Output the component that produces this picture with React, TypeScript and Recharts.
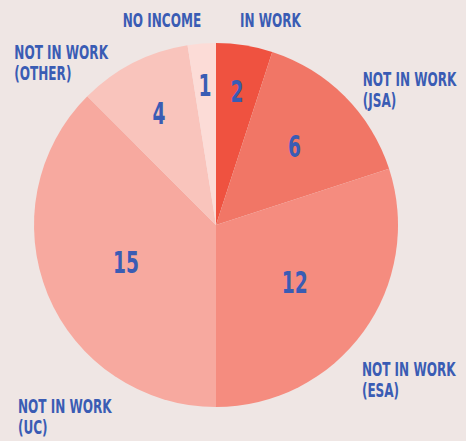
import { PieChart, Pie, Cell } from 'recharts'

const categories = ['IN WORK', 'NOT IN WORK (JSA)', 'NOT IN WORK (ESA)', 'NOT IN WORK (UC)', 'NOT IN WORK (OTHER)', 'NO INCOME']
const values = [2, 6, 12, 15, 4, 1]

const colors = ['#ef5240', '#f17666', '#f58c7f', '#f7a99f', '#f9c4bc', '#fcdcd7']
// outer text: polar position (deg, recharts convention) of the first line's left/baseline point
const outerPos = [
    { angle: 83.1, r: 199 },
    { angle: 43.4, r: 202 },
    { angle: -46, r: 210 },
    { angle: -136.5, r: 273 },
    { angle: 140.6, r: 261 },
    { angle: 115.2, r: 219 },
]

const data = categories.map((name, i) => ({ name, value: values[i] }))

const font = "'DejaVu Sans Condensed', 'DejaVu Sans', sans-serif"
const blue = '#3a5cb4'
const RAD = Math.PI / 180

const renderLabel = (props: any) => {
    const { cx, cy, midAngle, outerRadius, percent, index, value } = props
    const frac = percent < 0.04 ? 0.77 : percent < 0.06 ? 0.74 : percent < 0.12 ? 0.69 : percent < 0.2 ? 0.61 : 0.535
    const r = outerRadius * frac
    const x = cx + r * Math.cos(-midAngle * RAD)
    const y = cy + r * Math.sin(-midAngle * RAD)

    const p = outerPos[index]
    const ox = cx + p.r * Math.cos(-p.angle * RAD)
    const oy = cy + p.r * Math.sin(-p.angle * RAD)
    const name = categories[index]
    const lines = name.startsWith('NOT IN WORK') ? ['NOT IN WORK', name.slice(12)] : [name]

    return (
        <g>
            <text transform={`translate(${x},${y}) scale(0.69,1)`} x={0} y={0}
                textAnchor='middle' dominantBaseline='central'
                fill={blue} fontFamily={font} fontWeight={700} fontSize={30}>
                {value}
            </text>
            {lines.map((l, i) => (
                <text key={i} transform={`translate(${ox},${oy + i * 21}) scale(0.67,1)`} x={0} y={0}
                    textAnchor='start' fill={blue}
                    fontFamily={font} fontWeight={700} fontSize={20}>
                    {l}
                </text>
            ))}
        </g>
    )
}

export default function App() {
    return (
        <div style={{ width: 466, height: 441, background: '#efe6e4' }}>
            <style>{`body{margin:0}`}</style>
            <PieChart width={466} height={441} margin={{ top: 0, left: 0, right: 0, bottom: 0 }}>
                <Pie
                    data={data}
                    dataKey='value'
                    cx={216}
                    cy={225}
                    outerRadius={182}
                    startAngle={90}
                    endAngle={-270}
                    stroke='none'
                    label={renderLabel}
                    labelLine={false}
                    isAnimationActive={false}
                >
                    {data.map((d, i) => <Cell key={d.name} fill={colors[i]} />)}
                </Pie>
            </PieChart>
        </div>
    )
}
